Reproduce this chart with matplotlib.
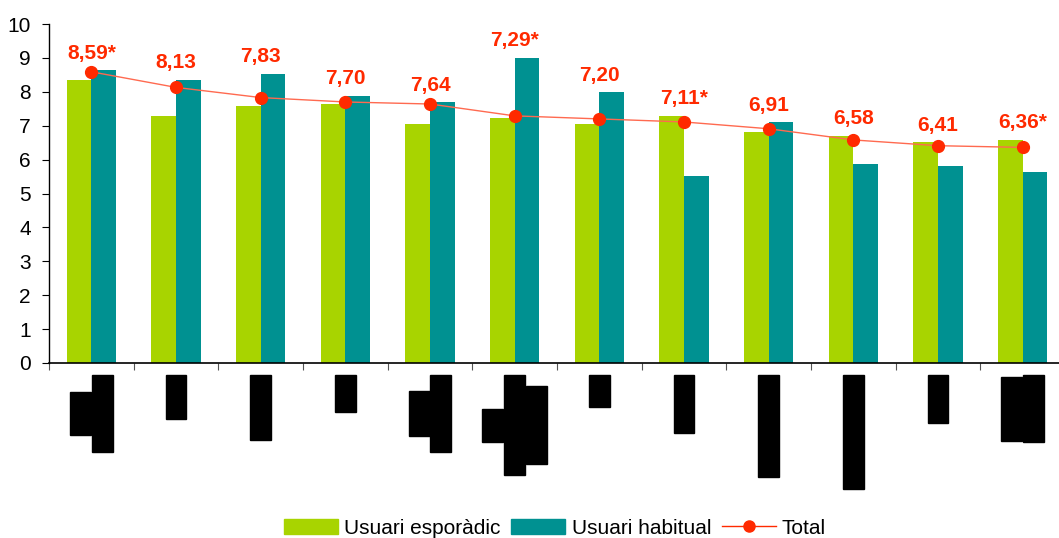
import matplotlib
matplotlib.use("Agg")
import matplotlib.pyplot as plt
import matplotlib.transforms as mtransforms
from matplotlib.patches import Patch, Rectangle
from matplotlib.lines import Line2D
import numpy as np

plt.rcParams["font.family"] = ["Liberation Sans", "DejaVu Sans"]

# Dades (valoració mitjana, escala 0-10)
esporadic = [8.35, 7.29, 7.58, 7.64, 7.05, 7.23, 7.05, 7.29, 6.81, 6.70, 6.52, 6.58]
habitual = [8.64, 8.35, 8.53, 7.88, 7.70, 9.00, 7.99, 5.52, 7.11, 5.87, 5.81, 5.63]
total = [8.59, 8.13, 7.83, 7.70, 7.64, 7.29, 7.20, 7.11, 6.91, 6.58, 6.41, 6.36]
significatiu = [True, False, False, False, False, True, False, True, False, False, False, True]

# Etiquetes de categoria (tapades en negre a l'original): longitud de cada línia en px
etiquetes_linies = [
    [43, 77], [44], [65], [37], [45, 77], [33, 100, 78],
    [32], [58], [102], [114], [48], [64, 67],
]

VERD = "#A8D400"
TEAL = "#009191"
VERMELL = "#FF2A00"

W, H = 1059, 538
fig = plt.figure(figsize=(W / 100, H / 100), dpi=100)
ax = fig.add_axes([49 / W, 1 - 363 / H, 1016 / W, 339 / H])

x = np.arange(len(total))
bw = 0.29
ax.bar(x - bw / 2, esporadic, bw, color=VERD, label="Usuari esporàdic")
ax.bar(x + bw / 2, habitual, bw, color=TEAL, label="Usuari habitual")
ax.plot(x, total, color="#FF6A50", lw=1.0, zorder=3)
ax.plot(x, total, "o", color=VERMELL, ms=8.5, zorder=4)

for i, v in enumerate(total):
    txt = f"{v:.2f}".replace(".", ",") + ("*" if significatiu[i] else "")
    y = max(esporadic[i], habitual[i], v) + 0.5
    ax.text(i, y, txt, ha="center", va="center", color=VERMELL,
            fontsize=15, fontweight="bold", zorder=5)

ax.set_xlim(-0.5, len(total) - 0.5)
ax.set_ylim(0, 10)
ax.set_yticks(range(0, 11))
ax.tick_params(axis="y", labelsize=15, length=5, direction="out", pad=8)
ax.set_xticks(np.arange(-0.5, len(total), 1.0))
ax.set_xticklabels([])
ax.tick_params(axis="x", length=5, color="#555555", direction="out")
for s in ["top", "right"]:
    ax.spines[s].set_visible(False)
ax.spines["left"].set_linewidth(1.0)
ax.spines["bottom"].set_linewidth(1.2)

# Etiquetes d'eix tapades (rectangles negres)
trans = mtransforms.blended_transform_factory(ax.transData, fig.transFigure)
col_w = 21 / 84.7
col_step = 22 / 84.7
top_px = 375
for i, linies in enumerate(etiquetes_linies):
    n = len(linies)
    llarg = max(linies)
    centre_px = top_px + llarg / 2
    for j, l in enumerate(linies):
        xc = i + (j - (n - 1) / 2) * col_step
        y0 = 1 - (centre_px + l / 2) / H
        ax.add_patch(Rectangle((xc - col_w / 2, y0), col_w, l / H,
                               transform=trans, color="black", clip_on=False))

handles = [
    Patch(color=VERD),
    Patch(color=TEAL),
    Line2D([0], [0], color=VERMELL, lw=1.0, marker="o", ms=8),
]
fig.legend(handles, ["Usuari esporàdic", "Usuari habitual", "Total"],
           loc="center", bbox_to_anchor=(555 / W, 1 - 528 / H), ncol=3,
           frameon=False, fontsize=15, handlelength=2.6, handleheight=0.7,
           handletextpad=0.3, columnspacing=0.5, borderpad=0)

fig.savefig("out.png", dpi=100)
